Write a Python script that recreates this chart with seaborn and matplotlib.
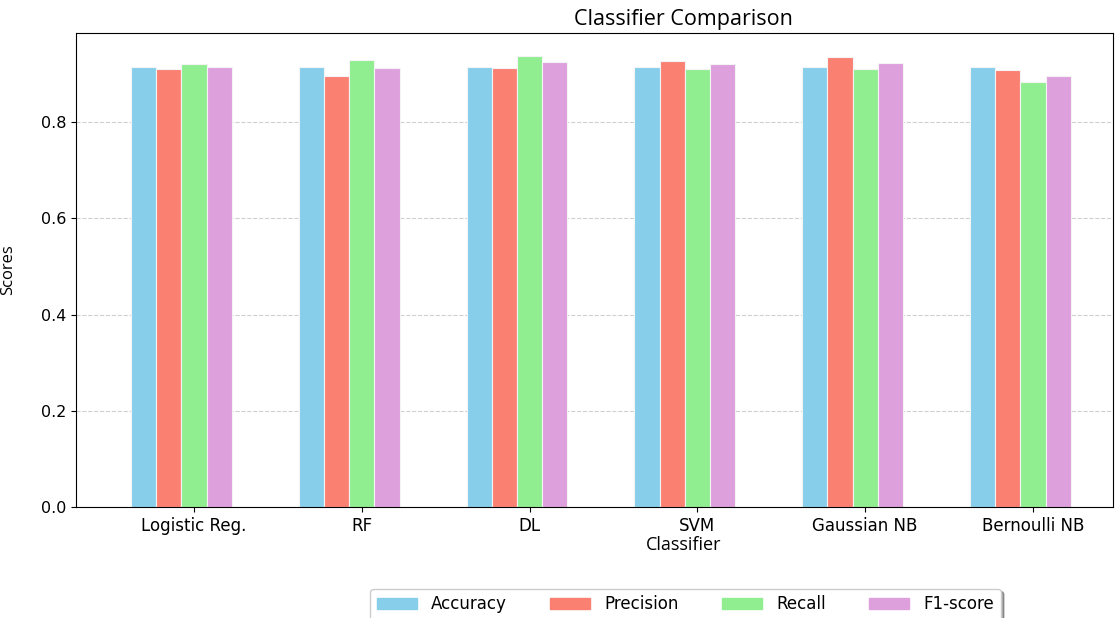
import pandas as pd
import matplotlib.pyplot as plt
import seaborn as sns

# scores
classifiers = ['Logistic Reg.', 'RF', 'DL', 'SVM', 'Gaussian NB', 'Bernoulli NB']
accuracy = [0.915, 0.915, 0.915, 0.915, 0.915, 0.915]
precision = [0.910, 0.895, 0.913, 0.927, 0.936, 0.908]
recall = [0.920, 0.929, 0.938, 0.910, 0.910, 0.884]
f1_score = [0.915, 0.913, 0.924, 0.920, 0.922, 0.895]

metrics = ['Accuracy', 'Precision', 'Recall', 'F1-score']
colors = ['skyblue', 'salmon', 'lightgreen', 'plum']

# long format for seaborn
df = pd.DataFrame({
    'Classifier': classifiers * 4,
    'Metric': [m for m in metrics for _ in classifiers],
    'Score': accuracy + precision + recall + f1_score,
})

fig = plt.figure(figsize=(11.15, 6.18), dpi=100)
ax = fig.add_axes([76 / 1115, 1 - 507 / 618, (1113 - 76) / 1115, (507 - 33) / 618])

sns.barplot(
    data=df, x='Classifier', y='Score', hue='Metric',
    palette=colors, saturation=1, width=0.6, ax=ax,
    edgecolor='#f4f4f4', linewidth=0.8, legend=False)

# ticks sit under the third bar of each group, like the original
ax.set_xticks([i + 0.075 for i in range(len(classifiers))])
ax.set_xticklabels(classifiers, fontsize=12)
ax.tick_params(axis='y', labelsize=11.5)
ax.set_xlim(-0.628, 5.552)
ax.set_ylim(0, 0.985)
ax.set_yticks([0.0, 0.2, 0.4, 0.6, 0.8])

ax.grid(axis='y', linestyle='--', alpha=0.6)
ax.set_axisbelow(True)

ax.set_title('Classifier Comparison', fontsize=15.5, family='Open Sans', x=0.586)
ax.set_xlabel('Classifier', fontsize=13, family='Open Sans')
ax.xaxis.set_label_coords(0.586, -0.062)
ax.set_ylabel('Scores', fontsize=12, family='Open Sans')
ax.yaxis.set_label_coords(-0.058, 0.5)

handles = [plt.Rectangle((0, 0), 1, 1, color=c) for c in colors]
fig.legend(handles, metrics, ncol=4, loc='center', bbox_to_anchor=(0.615, 0.022),
           fontsize=12, shadow=True, handlelength=2.4, handletextpad=0.85,
           columnspacing=2.6)

plt.savefig('out.png')
